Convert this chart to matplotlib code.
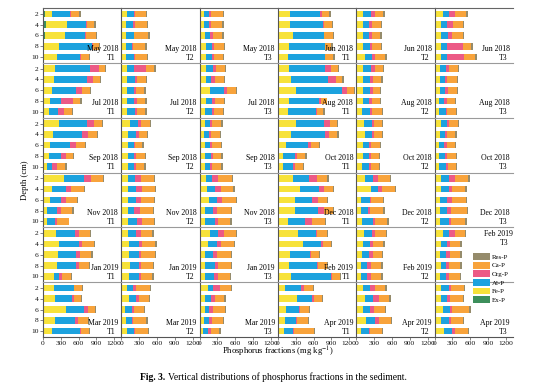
import numpy as np
import matplotlib
matplotlib.use("Agg")
import matplotlib.pyplot as plt
from matplotlib.patches import Patch

plt.rcParams['font.family'] = 'Liberation Serif'
plt.rcParams['mathtext.fontset'] = 'stix'

months = ["May 2018", "Jun 2018", "Jul 2018", "Aug 2018", "Sep 2018", "Oct 2018",
          "Nov 2018", "Dec 2018", "Jan 2019", "Feb 2019", "Mar 2019", "Apr 2019"]
sites = ["T1", "T2", "T3"]
depths = [2, 4, 6, 8, 10]
fractions = ["Ex-P", "Fe-P", "Al-P", "Org-P", "Ca-P", "Res-P"]
colors = ["#3d8f5b", "#f7e23a", "#1ca2de", "#ec5a86", "#f8a33b", "#958b6b"]

# one row per month/site (May T1, May T2, May T3, Jun T1, ...), values at 2..10 cm
ex_p = [
    [35, 50, 35, 10, 10], [10, 10, 10, 10, 10], [10, 10, 10, 10, 10],  # May
    [10, 10, 10, 10, 10], [10, 10, 10, 10, 10], [10, 10, 10, 10, 10],  # Jun
    [10, 10, 10, 10, 10], [10, 10, 10, 10, 10], [10, 10, 10, 10, 10],  # Jul
    [10, 10, 10, 10, 10], [10, 10, 10, 10, 10], [10, 10, 10, 10, 10],  # Aug
    [10, 10, 10, 10, 10], [10, 10, 10, 10, 10], [10, 10, 10, 10, 10],  # Sep
    [10, 10, 10, 10, 10], [10, 10, 10, 10, 10], [10, 10, 10, 10, 10],  # Oct
    [10, 10, 10, 10, 10], [10, 10, 10, 10, 10], [10, 10, 10, 10, 10],  # Nov
    [10, 10, 10, 10, 10], [10, 10, 10, 10, 10], [10, 10, 10, 10, 10],  # Dec
    [10, 10, 10, 10, 10], [10, 10, 10, 10, 10], [10, 10, 10, 10, 10],  # Jan
    [10, 10, 10, 10, 10], [10, 10, 10, 10, 10], [10, 10, 10, 10, 10],  # Feb
    [10, 10, 10, 10, 10], [10, 10, 10, 10, 10], [10, 10, 10, 10, 10],  # Mar
    [10, 10, 10, 10, 10], [10, 10, 10, 10, 10], [10, 10, 10, 10, 10],  # Apr
]
fe_p = [
    [125, 360, 335, 265, 230], [90, 65, 65, 65, 75], [60, 60, 75, 95, 90],
    [200, 200, 245, 170, 155], [105, 105, 95, 105, 130], [125, 105, 105, 90, 95],
    [185, 175, 140, 105, 85], [90, 90, 90, 90, 90], [90, 90, 160, 90, 85],
    [180, 215, 290, 170, 155], [105, 95, 95, 95, 85], [80, 80, 80, 65, 65],
    [265, 160, 105, 95, 50], [135, 110, 100, 100, 100], [75, 60, 75, 75, 75],
    [290, 215, 125, 80, 80], [120, 130, 95, 95, 85], [90, 80, 65, 65, 65],
    [340, 140, 105, 60, 50], [100, 110, 100, 100, 100], [95, 120, 140, 85, 85],
    [235, 360, 270, 280, 160], [130, 235, 75, 75, 85], [100, 90, 80, 80, 80],
    [205, 265, 250, 230, 180], [100, 125, 125, 135, 125], [160, 130, 85, 85, 85],
    [335, 415, 190, 180, 205], [120, 95, 85, 75, 75], [135, 100, 80, 90, 80],
    [175, 185, 385, 195, 140], [80, 125, 55, 65, 80], [130, 85, 75, 60, 50],
    [110, 315, 125, 100, 85], [95, 140, 95, 150, 75], [100, 90, 125, 90, 155],
]
al_p = [
    [295, 320, 345, 555, 385], [110, 120, 135, 110, 130], [90, 90, 90, 100, 100],
    [495, 550, 515, 610, 620], [125, 100, 110, 110, 125], [110, 95, 105, 110, 105],
    [605, 550, 400, 195, 160], [110, 130, 110, 120, 125], [120, 95, 235, 105, 110],
    [605, 625, 785, 505, 480], [140, 125, 125, 110, 135], [100, 80, 90, 90, 110],
    [470, 480, 345, 200, 100], [140, 135, 100, 110, 110], [90, 90, 90, 100, 90],
    [470, 560, 370, 190, 155], [130, 125, 110, 110, 125], [100, 80, 90, 100, 110],
    [335, 245, 180, 170, 135], [125, 125, 135, 110, 155], [110, 135, 135, 135, 155],
    [270, 315, 300, 390, 285], [135, 125, 145, 110, 180], [135, 135, 125, 125, 145],
    [325, 325, 300, 315, 85], [145, 170, 155, 145, 155], [145, 145, 135, 155, 145],
    [300, 300, 335, 465, 670], [135, 125, 125, 100, 100], [100, 100, 100, 90, 100],
    [335, 290, 290, 335, 480], [110, 110, 110, 100, 125], [90, 100, 80, 90, 80],
    [270, 245, 215, 190, 160], [125, 135, 125, 155, 125], [135, 110, 125, 135, 135],
]
org_p = [
    [15, 10, 10, 10, 10], [20, 35, 10, 20, 20], [35, 30, 45, 35, 40],
    [35, 10, 10, 10, 15], [75, 45, 45, 45, 45], [95, 100, 65, 260, 280],
    [140, 110, 100, 195, 95], [200, 40, 45, 40, 35], [55, 55, 55, 45, 35],
    [90, 135, 80, 35, 20], [55, 45, 45, 45, 35], [55, 45, 45, 35, 20],
    [110, 110, 90, 90, 80], [40, 35, 20, 35, 35], [35, 35, 35, 35, 35],
    [110, 80, 55, 45, 45], [30, 35, 35, 35, 35], [35, 45, 35, 35, 35],
    [130, 80, 90, 55, 45], [90, 100, 90, 90, 80], [100, 90, 90, 55, 65],
    [135, 90, 100, 90, 120], [90, 60, 20, 35, 35], [100, 65, 80, 55, 45],
    [65, 65, 65, 50, 45], [80, 45, 45, 45, 45], [100, 80, 55, 55, 65],
    [20, 35, 20, 20, 20], [55, 55, 55, 55, 55], [90, 55, 65, 55, 45],
    [10, 45, 65, 55, 10], [55, 45, 35, 20, 10], [110, 65, 65, 45, 45],
    [45, 35, 20, 20, 10], [90, 100, 65, 65, 20], [35, 45, 35, 35, 35],
]
ca_p = [
    [135, 120, 160, 100, 140], [180, 195, 235, 200, 200], [190, 190, 155, 170, 155],
    [125, 135, 145, 100, 135], [140, 155, 145, 145, 170], [185, 170, 190, 145, 190],
    [105, 110, 140, 125, 135], [145, 145, 135, 145, 145], [155, 155, 145, 155, 155],
    [125, 100, 110, 100, 100], [140, 145, 125, 135, 170], [150, 155, 145, 145, 155],
    [135, 145, 155, 110, 135], [155, 135, 125, 145, 135], [155, 145, 145, 145, 155],
    [110, 135, 125, 135, 125], [145, 135, 145, 135, 125], [160, 135, 145, 145, 135],
    [195, 215, 190, 200, 190], [225, 215, 215, 225, 200], [225, 215, 235, 235, 200],
    [180, 155, 145, 155, 220], [200, 215, 200, 225, 215], [225, 215, 225, 270, 235],
    [190, 190, 190, 170, 155], [190, 225, 225, 200, 190], [190, 215, 235, 215, 200],
    [155, 135, 135, 145, 140], [180, 170, 155, 180, 180], [170, 170, 180, 190, 190],
    [125, 110, 125, 155, 135], [225, 170, 170, 225, 225], [180, 155, 200, 180, 145],
    [155, 135, 145, 180, 335], [170, 170, 180, 200, 200], [215, 225, 290, 200, 225],
]
res_p = [
    [28, 28, 22, 22, 22], [22, 17, 22, 22, 22], [22, 22, 28, 22, 22],
    [22, 22, 12, 28, 22], [34, 22, 22, 22, 34], [34, 22, 22, 34, 34],
    [22, 22, 12, 22, 17], [22, 22, 22, 22, 22], [22, 22, 22, 22, 22],
    [22, 22, 22, 12, 22], [22, 22, 22, 22, 22], [22, 22, 22, 22, 22],
    [22, 22, 22, 22, 22], [22, 22, 22, 22, 22], [22, 22, 22, 22, 22],
    [22, 22, 22, 22, 22], [22, 22, 22, 22, 22], [22, 22, 22, 22, 22],
    [22, 17, 22, 22, 12], [22, 22, 22, 22, 22], [22, 22, 22, 22, 22],
    [22, 22, 22, 22, 22], [22, 22, 22, 22, 22], [22, 22, 22, 22, 22],
    [22, 22, 22, 22, 22], [22, 22, 22, 22, 22], [22, 22, 22, 22, 22],
    [22, 22, 22, 22, 22], [22, 22, 22, 22, 22], [22, 22, 22, 22, 22],
    [22, 22, 22, 22, 22], [22, 22, 22, 22, 22], [22, 22, 22, 22, 22],
    [22, 22, 22, 22, 22], [22, 22, 22, 22, 22], [22, 22, 22, 22, 22],
]
xticks = [0, 300, 600, 900, 1200]

components = [ex_p, fe_p, al_p, org_p, ca_p, res_p]
ypos = np.arange(len(depths))

fig = plt.figure(figsize=(5.54, 3.89), dpi=100)
gs = fig.add_gridspec(6, 6, left=43/554, right=513/554, top=1-8/389,
                      bottom=1-337/389, wspace=0, hspace=0)

for k in range(len(months) * len(sites)):
    r, c = divmod(k, 6)
    ax = fig.add_subplot(gs[r, c])
    left = np.zeros(len(depths))
    for vals, col in zip(components, colors):
        ax.barh(ypos, vals[k], left=left, height=0.62, color=col, linewidth=0)
        left += np.array(vals[k])
    ax.set_xlim(0, 1320)
    ax.set_ylim(4.55, -0.55)

    if c == 0:
        ax.set_yticks(ypos, [str(d) for d in depths])
    else:
        ax.set_yticks([])
    if r == 5:
        ax.set_xticks(xticks, [str(t) for t in xticks])
    else:
        ax.set_xticks([])
    ax.tick_params(length=2, width=0.5, pad=1, labelsize=5.4,
                   color='#555555', labelcolor='#111111')

    ax.spines['right'].set_visible(False)
    ax.spines['top'].set_color('#666666' if r == 0 else '#9a9a9a')
    ax.spines['top'].set_linewidth(0.8)
    ax.spines['left'].set_color('#555555')
    ax.spines['left'].set_linewidth(0.8)
    if r == 5:
        ax.spines['bottom'].set_color('#555555')
        ax.spines['bottom'].set_linewidth(0.8)
    else:
        ax.spines['bottom'].set_visible(False)

    month = months[k // 3]
    site = sites[k % 3]
    if k == 29:  # Feb 2019 T3, label sits above the legend
        ax.text(0.995, 0.88, month, transform=ax.transAxes, ha='right', va='center', fontsize=5.6)
        ax.text(0.94, 0.72, site, transform=ax.transAxes, ha='right', va='center', fontsize=5.6)
    else:
        ax.text(0.96, 0.26, month, transform=ax.transAxes, ha='right', va='center', fontsize=5.6)
        ax.text(0.93, 0.095, site, transform=ax.transAxes, ha='right', va='center', fontsize=5.6)

handles = [Patch(facecolor=col, edgecolor='none', label=lab)
           for lab, col in zip(fractions, colors)][::-1]
fig.legend(handles=handles, loc='upper left', bbox_to_anchor=(473/554, 1-253/389),
           frameon=False, fontsize=5.0, borderpad=0, borderaxespad=0,
           handlelength=2.4, handleheight=1.15, labelspacing=0.25, handletextpad=0.35)

fig.text(25/554, 1-180/389, "Depth (cm)", rotation=90, ha='center', va='center', fontsize=6.2)
fig.text(278/554, 1-352/389, "Phosphorus fractions (mg kg$^{-1}$)", ha='center', va='center',
         fontsize=6.2)

cap1 = fig.text(140/554, 1-377/389, "Fig. 3.", ha='left', va='center', fontsize=6.9,
                fontweight='bold')
fig.canvas.draw()
bb = cap1.get_window_extent()
x_next = fig.transFigure.inverted().transform((bb.x1, bb.y0))[0]
fig.text(x_next + 3/554, 1-377/389, "Vertical distributions of phosphorus fractions in the sediment.",
         ha='left', va='center', fontsize=6.9)

fig.savefig("out.png", dpi=100)
